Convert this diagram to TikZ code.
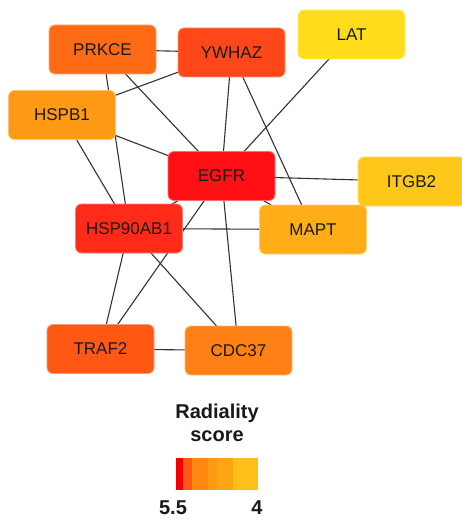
\documentclass[tikz,border=0pt]{standalone}
\usepackage{fontspec}
\setmainfont{Liberation Sans}
\usetikzlibrary{backgrounds}
\definecolor{cEGFR}{HTML}{FF1014}
\definecolor{cHSP}{HTML}{FF2A18}
\definecolor{cYWHAZ}{HTML}{FF4719}
\definecolor{cTRAF}{HTML}{FF5714}
\definecolor{cPRKCE}{HTML}{FF6A14}
\definecolor{cCDC}{HTML}{FF8014}
\definecolor{cHSPB}{HTML}{FF9A14}
\definecolor{cMAPT}{HTML}{FFAE17}
\definecolor{cITGB}{HTML}{FFC71A}
\definecolor{cLAT}{HTML}{FFDD1A}
\definecolor{edgecol}{HTML}{333333}
\begin{document}
\begin{tikzpicture}[x=1pt,y=-1pt,
  gene/.style={rectangle, rounded corners=6pt, minimum width=107pt, minimum height=49pt,
    inner sep=0pt, line width=0.8pt, font=\fontsize{17}{19}\selectfont, text=black!90},
  edge/.style={draw=edgecol, line width=1.1pt},
  legtext/.style={font=\bfseries\fontsize{20}{22}\selectfont, inner sep=0pt, text=black!90},
  legseg/.style={inner sep=0pt, minimum height=32pt, anchor=north west}]
\useasboundingbox (0,0) rectangle (461,521);
\node[gene, fill=cPRKCE, draw=cPRKCE!60!white] (PRKCE) at (102.5,49.5) {PRKCE};
\node[gene, fill=cYWHAZ, draw=cYWHAZ!60!white] (YWHAZ) at (231.5,52.5) {YWHAZ};
\node[gene, fill=cLAT, draw=cLAT!60!white] (LAT) at (351.5,34.5) {LAT};
\node[gene, fill=cHSPB, draw=cHSPB!60!white] (HSPB1) at (62,115) {HSPB1};
\node[gene, fill=cEGFR, draw=cEGFR!60!white] (EGFR) at (221.5,176) {EGFR};
\node[gene, fill=cITGB, draw=cITGB!60!white] (ITGB2) at (411.5,181.5) {ITGB2};
\node[gene, fill=cMAPT, draw=cMAPT!60!white] (MAPT) at (313,229.5) {MAPT};
\node[gene, fill=cHSP, draw=cHSP!60!white] (HSP90AB1) at (129,228.5) {HSP90AB1};
\node[gene, fill=cTRAF, draw=cTRAF!60!white] (TRAF2) at (100.5,349) {TRAF2};
\node[gene, fill=cCDC, draw=cCDC!60!white] (CDC37) at (238.5,350.5) {CDC37};
\begin{scope}[on background layer]
\fill[white] (0,0) rectangle (461,521);
\draw[edge] (PRKCE.center) -- (YWHAZ.center);
\draw[edge] (PRKCE.center) -- (HSP90AB1.center);
\draw[edge] (PRKCE.center) -- (EGFR.center);
\draw[edge] (YWHAZ.center) -- (HSPB1.center);
\draw[edge] (YWHAZ.center) -- (EGFR.center);
\draw[edge] (YWHAZ.center) -- (MAPT.center);
\draw[edge] (LAT.center) -- (EGFR.center);
\draw[edge] (HSPB1.center) -- (EGFR.center);
\draw[edge] (HSPB1.center) -- (HSP90AB1.center);
\draw[edge] (EGFR.center) -- (ITGB2.center);
\draw[edge] (EGFR.center) -- (MAPT.center);
\draw[edge] (EGFR.center) -- (HSP90AB1.center);
\draw[edge] (EGFR.center) -- (TRAF2.center);
\draw[edge] (EGFR.center) -- (CDC37.center);
\draw[edge] (HSP90AB1.center) -- (MAPT.center);
\draw[edge] (HSP90AB1.center) -- (TRAF2.center);
\draw[edge] (HSP90AB1.center) -- (CDC37.center);
\draw[edge] (TRAF2.center) -- (CDC37.center);
\end{scope}
% legend
\node[legtext] (leg1) at (217,413) {Radiality};
\node[legtext] (leg2) at (217,436) {score};
\node[legseg, fill=red!95!black, minimum width=7pt] (s1) at (176,458) {};
\node[legseg, fill=cTRAF, minimum width=9pt] (s2) at (183,458) {};
\node[legseg, fill=cCDC!70!cHSPB, minimum width=16pt] (s3) at (192,458) {};
\node[legseg, fill=cHSPB, minimum width=9pt] (s4) at (208,458) {};
\node[legseg, fill=cHSPB!50!cMAPT, minimum width=16pt] (s5) at (217,458) {};
\node[legseg, fill=cMAPT!30!cITGB, minimum width=25pt] (s6) at (233,458) {};
\node[legtext] (lo) at (173,508) {5.5};
\node[legtext] (hi) at (257,508) {4};
\end{tikzpicture}
\end{document}
